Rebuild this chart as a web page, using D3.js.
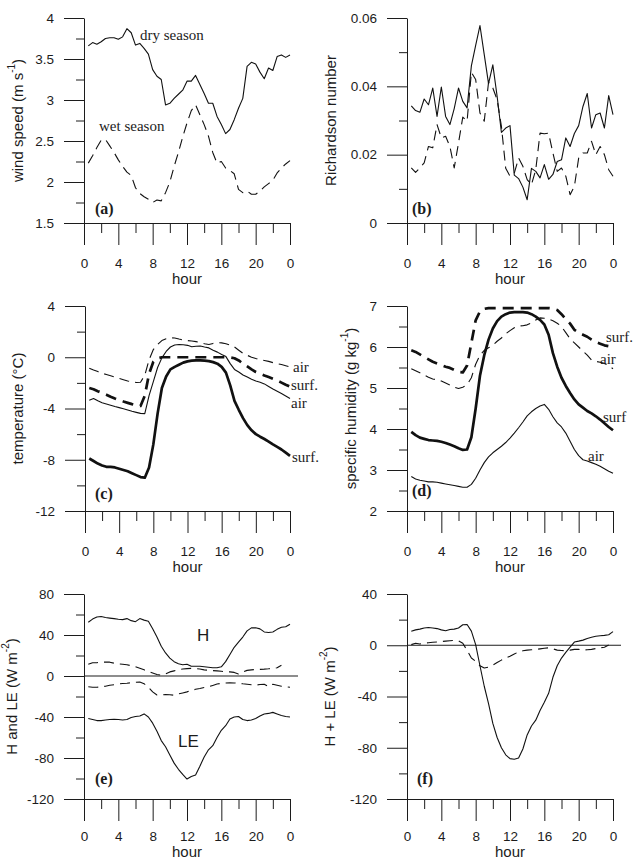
<!DOCTYPE html>
<html><head><meta charset="utf-8">
<script src="https://cdn.jsdelivr.net/npm/d3@7"></script>
<style>body{margin:0;background:#fff}</style>
</head><body>
<svg id="c" width="633" height="859"></svg>
<script>
// ---- categories ----
const hours = [0.5,1,1.5,2,2.5,3,3.5,4,4.5,5,5.5,6,6.5,7,7.5,8,8.5,9,9.5,10,10.5,11,11.5,12,
  12.5,13,13.5,14,14.5,15,15.5,16,16.5,17,17.5,18,18.5,19,19.5,20,20.5,21,21.5,22,22.5,23,23.5,24];
const hourTicks = [0,4,8,12,16,20,24];
const hourLabels = ["0","4","8","12","16","20","0"];
const hourMinor = [2,6,10,14,18,22];

// ---- (a) wind speed ----
const windDry = [3.66,3.70,3.68,3.71,3.75,3.76, 3.76,3.74,3.77,3.87,3.82,3.67, 3.69,3.63,3.56,3.37,3.29,3.25,
  2.94,2.96,3.02,3.07,3.12,3.23, 3.23,3.30,3.19,3.08,2.96,2.96, 2.80,2.70,2.59,2.64,2.76,2.90,
  3.02,3.41,3.46,3.44,3.34,3.26, 3.39,3.36,3.53,3.55,3.52,3.55];
const windWet = [2.23,2.32,2.42,2.51,2.52,2.44, 2.36,2.27,2.19,2.12,2.08,1.93, 1.86,1.82,1.79,1.75,1.78,1.77,
  1.87,2.00,2.19,2.36,2.55,2.72, 2.87,2.94,2.82,2.70,2.56,2.36, 2.23,2.25,2.17,2.14,2.10,1.91,
  1.87,1.89,1.85,1.85,1.89,1.94, 1.98,2.02,2.11,2.17,2.22,2.26];
const windTicks = [1.5,2,2.5,3,3.5,4];
const windMinor = [1.75,2.25,2.75,3.25,3.75];

// ---- (b) Richardson number ----
const riDry = [0.0343,0.0329,0.0324,0.0363,0.0346,0.0395, 0.0312,0.0398,0.0312,0.0288,0.0335,0.0395,
  0.0356,0.0337,0.0460,0.0520,0.0578,0.0493, 0.0408,0.0463,0.0371,0.0265,0.0278,0.0285,
  0.0140,0.0130,0.0105,0.0068,0.0160,0.0151, 0.0132,0.0171,0.0128,0.0142,0.0180,0.0185,
  0.0249,0.0224,0.0262,0.0285,0.0341,0.0379, 0.0278,0.0317,0.0322,0.0278,0.0373,0.0317];
const riWet = [0.0161,0.0148,0.0161,0.0176,0.0224,0.0220, 0.0288,0.0249,0.0254,0.0224,0.0161,0.0234,
  0.0310,0.0298,0.0441,0.0420,0.0322,0.0298, 0.0412,0.0395,0.0361,0.0283,0.0160,0.0137,
  0.0146,0.0190,0.0166,0.0127,0.0112,0.0156, 0.0263,0.0261,0.0263,0.0205,0.0151,0.0161,
  0.0137,0.0083,0.0107,0.0190,0.0205,0.0205, 0.0239,0.0200,0.0224,0.0200,0.0156,0.0137];
const riTicks = [0,0.02,0.04,0.06];
const riLabels = ["0","0.02","0.04","0.06"];
const riMinor = [0.01,0.03,0.05];

// ---- (c) temperature ----
const tempAirWet = [-0.85,-1.00,-1.12,-1.25,-1.35,-1.45, -1.55,-1.65,-1.75,-1.85,-1.92,-1.97,
  -1.95,-1.40,-0.20,0.60,1.00,1.30, 1.45,1.52,1.50,1.42,1.35,1.30, 1.27,1.22,1.15,1.05,1.00,1.08,
  1.14,1.12,1.06,0.95,0.80,0.55, 0.30,0.15,0.00,-0.10,-0.18,-0.25, -0.32,-0.42,-0.50,-0.57,-0.66,-0.75];
const tempSurfWet = [-2.40,-2.50,-2.65,-2.78,-2.92,-3.08, -3.22,-3.35,-3.46,-3.56,-3.66,-3.75,
  -3.80,-3.00,-1.30,-0.35,-0.08,0.00, 0,0,0,0,0,0, 0,0,0,0,0,0,
  0,0,0,-0.02,-0.08,-0.25, -0.50,-0.72,-0.95,-1.15,-1.28,-1.42, -1.55,-1.68,-1.82,-1.98,-2.15,-2.30];
const tempAirDry = [-3.35,-3.22,-3.40,-3.55,-3.65,-3.75, -3.85,-3.93,-4.02,-4.12,-4.22,-4.30,
  -4.38,-4.40,-3.00,-1.90,-0.80,-0.05, 0.45,0.80,0.96,0.99,0.97,0.93, 0.82,0.86,0.88,0.80,0.73,0.55,
  0.40,0.22,0.05,-0.50,-0.95,-1.15, -1.38,-1.55,-1.72,-1.85,-1.95,-2.08, -2.28,-2.48,-2.65,-2.83,-3.02,-3.22];
const tempSurfDry = [-7.90,-8.10,-8.30,-8.45,-8.55,-8.55, -8.60,-8.70,-8.80,-8.90,-9.05,-9.20,
  -9.35,-9.40,-8.60,-6.80,-4.40,-2.40, -1.50,-0.95,-0.75,-0.58,-0.42,-0.32, -0.27,-0.25,-0.25,-0.27,-0.30,-0.38,
  -0.50,-0.75,-1.20,-2.20,-3.40,-4.10, -4.75,-5.30,-5.70,-6.00,-6.20,-6.38, -6.58,-6.80,-7.00,-7.20,-7.45,-7.70];
const tempTicks = [-12,-8,-4,0,4];
const tempMinor = [-10,-6,-2,2];

// ---- (d) specific humidity ----
const qSurfWet = [5.92,5.88,5.82,5.76,5.70,5.64, 5.60,5.56,5.52,5.49,5.44,5.39, 5.38,5.55,6.10,6.65,6.87,6.93,
  6.95,6.95,6.95,6.95,6.95,6.95, 6.95,6.95,6.95,6.95,6.95,6.95, 6.95,6.95,6.95,6.94,6.90,6.80,
  6.68,6.57,6.42,6.35,6.30,6.25, 6.18,6.12,6.08,6.04,6.02,6.00];
const qAirWet = [5.47,5.42,5.37,5.32,5.26,5.22, 5.20,5.17,5.12,5.07,5.02,4.99, 5.02,5.08,5.25,5.58,5.80,5.92,
  5.98,6.04,6.14,6.22,6.32,6.40, 6.47,6.51,6.52,6.54,6.59,6.66, 6.71,6.70,6.68,6.64,6.58,6.50,
  6.35,6.20,6.10,6.00,5.90,5.80, 5.68,5.65,5.63,5.60,5.54,5.47];
const qSurfDry = [3.93,3.85,3.79,3.76,3.73,3.72, 3.71,3.69,3.66,3.62,3.58,3.53, 3.49,3.50,3.80,4.50,5.30,5.80,
  6.18,6.45,6.63,6.74,6.80,6.84, 6.85,6.85,6.85,6.84,6.80,6.74, 6.66,6.55,6.30,5.85,5.52,5.25,
  5.05,4.88,4.72,4.60,4.52,4.44, 4.38,4.31,4.23,4.14,4.05,3.97];
const qAirDry = [2.84,2.78,2.75,2.73,2.71,2.71, 2.70,2.68,2.66,2.64,2.62,2.60, 2.58,2.58,2.65,2.80,3.00,3.18,
  3.32,3.42,3.50,3.58,3.67,3.78, 3.90,4.03,4.17,4.32,4.42,4.50, 4.56,4.60,4.48,4.30,4.15,4.05,
  3.90,3.70,3.50,3.35,3.25,3.22, 3.18,3.14,3.09,3.03,2.97,2.92];
const qTicks = [2,3,4,5,6,7];
const qMinor = [2.5,3.5,4.5,5.5,6.5];

// ---- (e) H and LE ----
const hDry = [52.5,55.5,57.5,58.0,57.0,56.5, 56.0,55.3,55.0,56.0,54.0,53.0, 56.0,54.5,53.5,46.0,38.0,29.0,
  22.5,17.5,14.0,12.0,11.0,11.5, 9.5,9.5,9.5,9.0,8.5,8.0, 8.0,9.0,14.0,21.0,28.0,33.0,
  38.0,44.0,47.0,47.0,46.0,43.0, 42.5,43.0,45.5,47.5,48.0,50.5];
const leDry = [-41.5,-42.5,-43.5,-43.5,-43.0,-42.5, -42.3,-42.5,-43.0,-42.5,-40.5,-39.5,
  -39.0,-37.0,-40.0,-46.0,-54.0,-63.0, -69.0,-77.0,-85.0,-91.0,-96.0,-100.5,
  -98.0,-96.5,-88.0,-79.0,-72.0,-68.0, -60.0,-53.0,-48.5,-42.0,-40.0,-39.5,
  -42.5,-43.5,-43.0,-41.5,-39.0,-37.0, -36.5,-35.5,-37.0,-38.5,-39.5,-40.0];
const hWet = [11.5,13.0,13.0,13.5,13.5,13.5, 12.5,11.8,11.5,11.0,10.0,9.0, 7.5,6.0,4.5,3.0,1.5,0.8,
  2.0,4.0,5.0,6.0,6.8,7.2, 7.4,7.3,6.8,6.0,5.6,5.3, 5.0,4.6,4.2,4.0,3.5,2.0,
  4.0,5.5,6.0,6.3,6.5,6.7, 7.0,7.5,8.0,10.5,null,null];
const leWet = [-10.5,-11.0,-11.0,-10.5,-10.0,-9.0, -8.5,-7.8,-7.3,-7.0,-6.6,-6.2,
  -5.8,-7.5,-11.0,-15.5,-18.5,-18.5, -18.0,-18.3,-18.7,-17.5,-16.5,-15.5,
  -14.0,-13.0,-12.2,-11.3,-10.5,-9.2, -7.8,-7.2,-6.8,-6.6,-6.8,-7.1,
  -7.6,-8.0,-8.5,-8.9,-8.3,-8.0, -10.5,-8.0,-9.0,-10.0,-10.5,-11.0];
const fluxTicks = [-120,-80,-40,0,40,80];
const fluxMinor = [-100,-60,-20,20,60];

// ---- (f) H + LE ----
const sumDry = [11.0,12.0,12.6,13.5,13.8,13.5, 13.0,12.0,11.3,12.3,12.6,13.5, 16.0,16.2,11.0,0.5,-16.0,-32.0,
  -45.5,-61.0,-72.0,-80.0,-85.5,-88.5, -89.0,-88.0,-81.0,-70.0,-63.0,-58.5,
  -51.0,-44.5,-37.5,-25.0,-16.0,-10.0, -5.5,-1.5,2.5,3.2,4.0,5.3, 6.2,7.0,7.4,7.7,8.2,10.6];
const sumWet = [0.5,1.5,1.0,1.6,2.0,2.3, 2.6,2.9,3.2,3.5,3.8,3.5, 1.5,-4.0,-10.0,-12.5,-16.0,-17.8,
  -17.0,-15.5,-13.5,-11.6,-10.0,-8.5, -6.8,-5.2,-4.3,-3.8,-3.5,-3.3,
  -2.8,-2.3,-2.0,-2.8,-3.8,-4.1, -4.3,-3.8,-3.2,-3.2,-3.8,-3.5, -3.2,-2.6,-2.0,-1.5,0.2,null];
const sumTicks = [-120,-80,-40,0,40];
const sumMinor = [-100,-60,-20,20];

// ---- drawing ----
const svg = d3.select("#c");
const SANS = "'Liberation Sans', Arial, Helvetica, sans-serif";
const SERIF = "'Liberation Serif', 'Times New Roman', serif";
const INK = "#1c1c1c";
const THIN = {w: 1.1, dash: null};
const THIN_D = {w: 1.1, dash: "10,6"};
const THICK = {w: 2.7, dash: null};
const THICK_D = {w: 2.7, dash: "11,7"};

function panel(p) {
  const x = d3.scaleLinear().domain([0, 24]).range([p.x0, p.x1]);
  const y = d3.scaleLinear().domain(p.yDomain).range([p.yBot, p.yTop]);
  const g = svg.append("g");

  g.append("g").attr("transform", `translate(${p.x0},0)`)
    .call(d3.axisLeft(y).tickValues(p.yMajor)
      .tickFormat(p.yLabels ? (d => p.yLabels[p.yMajor.indexOf(d)]) : (d => String(d)))
      .tickSize(20).tickSizeOuter(0).tickPadding(10));
  g.append("g").attr("transform", `translate(${p.x0},0)`)
    .call(d3.axisLeft(y).tickValues(p.yMinor).tickFormat("").tickSize(8).tickSizeOuter(0))
    .call(s => s.select(".domain").remove());
  g.append("g").attr("transform", `translate(0,${p.yBot})`)
    .call(d3.axisBottom(x).tickValues(hourTicks)
      .tickFormat(d => hourLabels[hourTicks.indexOf(d)])
      .tickSize(22).tickSizeOuter(0).tickPadding(p.xPad));
  g.append("g").attr("transform", `translate(0,${p.yBot})`)
    .call(d3.axisBottom(x).tickValues(hourMinor).tickFormat("").tickSize(10).tickSizeOuter(0))
    .call(s => s.select(".domain").remove());

  g.selectAll(".tick line, .domain").attr("stroke", INK).attr("stroke-width", 1);
  g.selectAll(".tick text").attr("font-family", SANS).attr("font-size", 13.5).attr("fill", INK);

  // x title
  g.append("text").attr("x", (p.x0 + p.x1) / 2).attr("y", p.yBot + p.hourDy)
    .attr("text-anchor", "middle").attr("font-family", SANS).attr("font-size", 15)
    .attr("fill", INK).text("hour");

  // y title
  const t = g.append("text")
    .attr("transform", `translate(${p.titleX},${(p.yTop + p.yBot) / 2}) rotate(-90)`)
    .attr("text-anchor", "middle").attr("dominant-baseline", "central")
    .attr("font-family", SANS).attr("font-size", 15).attr("fill", INK);
  p.title.forEach(part => {
    const ts = t.append("tspan").text(part.t);
    if (part.sup) ts.attr("baseline-shift", "super").attr("font-size", 10);
  });

  if (p.zeroLine) {
    g.append("line").attr("x1", p.x0).attr("x2", x(24) + 8)
      .attr("y1", y(0)).attr("y2", y(0)).attr("stroke", INK).attr("stroke-width", 1.1);
  }

  const line = d3.line().defined(d => d != null)
    .x((d, i) => x(hours[i])).y(d => y(d));
  p.series.forEach(s => {
    g.append("path").datum(s.data).attr("d", line)
      .attr("fill", "none").attr("stroke", "#111")
      .attr("stroke-width", s.style.w)
      .attr("stroke-dasharray", s.style.dash)
      .attr("stroke-linejoin", "round");
  });

  g.append("text").attr("x", p.tag[1]).attr("y", p.tag[2])
    .attr("dominant-baseline", "central")
    .attr("font-family", SERIF).attr("font-weight", "bold").attr("font-size", 16)
    .attr("fill", INK).text(p.tag[0]);

  (p.notes || []).forEach(n => {
    g.append("text").attr("x", n[1]).attr("y", n[2]).attr("dominant-baseline", "central")
      .attr("font-family", n[3] || SERIF).attr("font-size", n[4] || 15).attr("fill", INK).text(n[0]);
  });
}

panel({x0: 84, x1: 290, yTop: 18, yBot: 223, yDomain: [1.5, 4], hourDy: 61, xPad: 13,
  yMajor: windTicks, yMinor: windMinor, titleX: 17,
  title: [{t: "wind speed (m s"}, {t: "-1", sup: true}, {t: ")"}],
  series: [{data: windDry, style: THIN}, {data: windWet, style: THIN_D}],
  tag: ["(a)", 95, 208],
  notes: [["dry season", 140, 35], ["wet season", 99, 126]]});

panel({x0: 407, x1: 613, yTop: 18, yBot: 223, yDomain: [0, 0.06], hourDy: 61, xPad: 13,
  yMajor: riTicks, yLabels: riLabels, yMinor: riMinor, titleX: 330,
  title: [{t: "Richardson number"}],
  series: [{data: riDry, style: THIN}, {data: riWet, style: THIN_D}],
  tag: ["(b)", 412, 208]});

panel({x0: 85, x1: 290, yTop: 306, yBot: 511, yDomain: [-12, 4], hourDy: 61, xPad: 13,
  yMajor: tempTicks, yMinor: tempMinor, titleX: 17,
  title: [{t: "temperature (°C)"}],
  series: [{data: tempAirWet, style: THIN_D}, {data: tempSurfWet, style: THICK_D},
           {data: tempAirDry, style: THIN}, {data: tempSurfDry, style: THICK}],
  tag: ["(c)", 95, 493],
  notes: [["air", 293, 367], ["surf.", 291, 385], ["air", 291, 403], ["surf.", 292, 457]]});

panel({x0: 407, x1: 613, yTop: 306, yBot: 511, yDomain: [2, 7], hourDy: 61, xPad: 13,
  yMajor: qTicks, yMinor: qMinor, titleX: 350,
  title: [{t: "specific humidity (g kg"}, {t: "-1", sup: true}, {t: ")"}],
  series: [{data: qSurfWet, style: THICK_D}, {data: qAirWet, style: THIN_D},
           {data: qSurfDry, style: THICK}, {data: qAirDry, style: THIN}],
  tag: ["(d)", 412, 490],
  notes: [["surf.", 606, 337], ["air", 600, 359], ["surf", 603, 417], ["air", 588, 456]]});

panel({x0: 84, x1: 290, yTop: 594, yBot: 799, yDomain: [-120, 80], hourDy: 58, xPad: 10,
  yMajor: fluxTicks, yMinor: fluxMinor, titleX: 11, zeroLine: true,
  title: [{t: "H and LE (W m"}, {t: "-2", sup: true}, {t: ")"}],
  series: [{data: hDry, style: THIN}, {data: leDry, style: THIN},
           {data: hWet, style: THIN_D}, {data: leWet, style: THIN_D}],
  tag: ["(e)", 95, 778],
  notes: [["H", 197, 635, SANS, 17], ["LE", 178, 741, SANS, 17]]});

panel({x0: 407, x1: 613, yTop: 594, yBot: 799, yDomain: [-120, 40], hourDy: 58, xPad: 10,
  yMajor: sumTicks, yMinor: sumMinor, titleX: 329, zeroLine: true,
  title: [{t: "H + LE (W m"}, {t: "-2", sup: true}, {t: ")"}],
  series: [{data: sumDry, style: THIN}, {data: sumWet, style: THIN_D}],
  tag: ["(f)", 417, 778]});
</script>
</body></html>
